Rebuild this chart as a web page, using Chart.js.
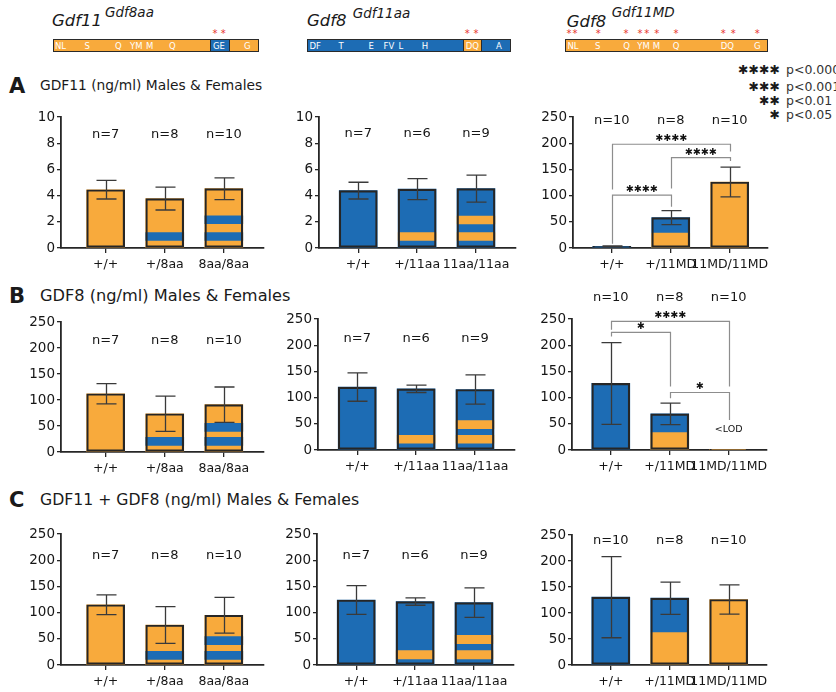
<!DOCTYPE html>
<html>
<head>
<meta charset="utf-8">
<title>GDF11 and GDF8 serum levels</title>
<script src="https://cdn.jsdelivr.net/npm/chart.js@4.4.1/dist/chart.umd.min.js"></script>
<style>
  html, body { margin: 0; padding: 0; background: #fff; }
  #fig { position: relative; width: 836px; height: 692px; overflow: hidden;
         font-family: "DejaVu Sans", sans-serif; color: #1a1a1a; }
  .t { position: absolute; line-height: 1; white-space: nowrap; transform: translateY(-50%); }
  canvas { position: absolute; }
  .cbar { position: absolute; box-sizing: border-box; border: 1.5px solid #2a2a2a; height: 13px; top: 39px; }
  .res { position: absolute; color: #fff; font-size: 8.5px; line-height: 1; top: 45.5px; transform: translateY(-50%); }
  .star { position: absolute; color: #e8322c; font-size: 10px; line-height: 1; top: 34px; transform: translate(-50%, -50%); }
  .sig { position: absolute; line-height: 1; transform: translateY(-50%); white-space: nowrap; }
</style>
</head>
<body>
<div id="fig"></div>
<script>
// ---------- colours ----------
const ORANGE = '#f8aa3c';
const BLUE = '#1d6cb4';

// ---------- genotype labels ----------
const labels8aa = ['+/+', '+/8aa', '8aa/8aa'];
const labels11aa = ['+/+', '+/11aa', '11aa/11aa'];
const labelsMD = ['+/+', '+/11MD', '11MD/11MD'];

// ---------- group sizes ----------
const n8aa = [7, 8, 10];
const n11aa = [7, 6, 9];
const nMD = [10, 8, 10];

// ---------- GDF11 (ng/ml): mean and error ----------
const gdf11_8aa = [4.45, 3.77, 4.53];
const gdf11_8aa_err = [0.71, 0.87, 0.83];
const gdf11_11aa = [4.38, 4.50, 4.53];
const gdf11_11aa_err = [0.64, 0.80, 1.03];
const gdf11_MD = [3, 58, 126];
const gdf11_MD_err = [1, 13.5, 28.5];

// ---------- GDF8 (ng/ml) ----------
const gdf8_8aa = [112, 73.5, 91];
const gdf8_8aa_err = [19.5, 34, 34];
const gdf8_11aa = [120, 116.7, 115.4];
const gdf8_11aa_err = [27, 7, 28];
const gdf8_MD = [127, 69, 0.8];
const gdf8_MD_err = [78, 20.5, 0];

// ---------- GDF11 + GDF8 (ng/ml) ----------
const sum_8aa = [115, 76.3, 95];
const sum_8aa_err = [19, 35, 34];
const sum_11aa = [124, 121, 119];
const sum_11aa_err = [27.5, 7, 28];
const sum_MD = [130.4, 128.5, 126];
const sum_MD_err = [78, 31, 28];

// ---------- chimeric bands inside bars: [bar index, from, to] ----------
const bands8aa_A = [[1, 0.58, 1.17], [2, 0.58, 1.17], [2, 1.85, 2.45]];
const bands8aa_B = [[1, 12.8, 28], [2, 12.8, 28], [2, 39.6, 55]];
const bands8aa_C = [[1, 10.8, 26], [2, 10.8, 26], [2, 38.8, 54]];
const bands11aa_A = [[1, 0.58, 1.17], [2, 0.58, 1.17], [2, 1.83, 2.43]];
const bands11aa_B = [[1, 12.8, 28], [2, 12.8, 28], [2, 40.8, 56]];
const bands11aa_C = [[1, 11.5, 27.4], [2, 11.5, 27.4], [2, 40.7, 56.6]];
const bandsMD_A = [[1, 0, 28.7]];
const bandsMD_B = [[1, 0, 33.2]];
const bandsMD_C = [[1, 0, 62.3]];

// ---------- significance brackets: from, to, level, leg ends, label ----------
const bracketsMD_A = [
  { from: 0, to: 2, y: 198, legs: [111.7, 184], label: '✱✱✱✱' },
  { from: 1, to: 2, y: 172.4, legs: [113.7, 166], label: '✱✱✱✱' },
  { from: 0, to: 1, y: 100.9, legs: [8.3, 78.5], label: '✱✱✱✱' }
];
const bracketsMD_B = [
  { from: 0, to: 2, y: 245.5, legs: [229.6, 121.2], label: '✱✱✱✱' },
  { from: 0, to: 1, y: 224.5, legs: [216.8, 121.2], label: '✱' },
  { from: 1, to: 2, y: 109.7, legs: [98.9, 57.4], label: '✱' }
];

// ---------- top schematics of the chimeric proteins ----------
const constructs = [
  { gene: 'Gdf11', sup: 'Gdf8aa', gx: 52, gy: 20.8, sx: 105, sy: 13.3, bar: [53, 258.5], base: ORANGE,
    seg: [210, 229.5], segColor: BLUE,
    residues: [['NL', 55], ['S', 84.5], ['Q', 115], ['YM', 130], ['M', 146], ['Q', 169], ['GE', 213], ['G', 244]],
    stars: [215, 223.3] },
  { gene: 'Gdf8', sup: 'Gdf11aa', gx: 307, gy: 20.8, sx: 352.7, sy: 13.8, bar: [306.7, 510.7], base: BLUE,
    seg: [463.3, 482], segColor: ORANGE,
    residues: [['DF', 309.5], ['T', 338.5], ['E', 368.5], ['FV', 383.5], ['L', 398.5], ['H', 421.7], ['DQ', 465.7], ['A', 496]],
    stars: [467.3, 476] },
  { gene: 'Gdf8', sup: 'Gdf11MD', gx: 566.7, gy: 21.6, sx: 611.7, sy: 13.3, bar: [565, 768.3], base: ORANGE,
    seg: null, segColor: null,
    residues: [['NL', 567.5], ['S', 595], ['Q', 623.3], ['YM', 637.3], ['M', 652.7], ['Q', 672.7], ['DQ', 720.7], ['G', 754]],
    stars: [569, 575, 598.3, 626, 640, 646.7, 656.7, 676, 723.3, 733.3, 757.3] }
];

const fig = document.getElementById('fig');

function addText(txt, left, cy, css) {
  const d = document.createElement('div');
  d.className = 't';
  d.textContent = txt;
  d.style.left = left + 'px';
  d.style.top = cy + 'px';
  Object.assign(d.style, css || {});
  fig.appendChild(d);
  return d;
}

constructs.forEach(c => {
  addText(c.gene, c.gx, c.gy, { fontSize: '16.5px', fontStyle: 'italic' });
  addText(c.sup, c.sx, c.sy, { fontSize: '13.5px', fontStyle: 'italic' });
  const b = document.createElement('div');
  b.className = 'cbar';
  b.style.left = c.bar[0] + 'px';
  b.style.width = (c.bar[1] - c.bar[0]) + 'px';
  b.style.background = c.base;
  fig.appendChild(b);
  if (c.seg) {
    const s = document.createElement('div');
    s.className = 'cbar';
    s.style.left = c.seg[0] + 'px';
    s.style.width = (c.seg[1] - c.seg[0]) + 'px';
    s.style.background = c.segColor;
    fig.appendChild(s);
  }
  c.residues.forEach(r => {
    const e = document.createElement('div');
    e.className = 'res';
    e.textContent = r[0];
    e.style.left = r[1] + 'px';
    fig.appendChild(e);
  });
  c.stars.forEach(x => {
    const e = document.createElement('div');
    e.className = 'star';
    e.textContent = '*';
    e.style.left = x + 'px';
    fig.appendChild(e);
  });
});

// significance key
const sigKey = [['✱✱✱✱', 'p<0.0001', 70], ['✱✱✱', 'p<0.001', 86.5], ['✱✱', 'p<0.01', 100.5], ['✱', 'p<0.05', 115]];
sigKey.forEach(k => {
  const s = document.createElement('div');
  s.className = 'sig';
  s.textContent = k[0];
  s.style.right = (836 - 780) + 'px';
  s.style.top = k[2] + 'px';
  s.style.fontSize = '12.5px';
  s.style.fontWeight = 'bold';
  fig.appendChild(s);
  addText(k[1], 786, k[2], { fontSize: '12.5px', color: '#333' });
});

// panel letters and titles
const panels = [
  ['A', 'GDF11 (ng/ml) Males & Females', 86, '13.8px'],
  ['B', 'GDF8 (ng/ml) Males & Females', 296, '16.2px'],
  ['C', 'GDF11 + GDF8 (ng/ml) Males & Females', 500, '15.7px']
];
panels.forEach(p => {
  addText(p[0], 9, p[2], { fontSize: '21px', fontWeight: 'bold' });
  addText(p[1], 40, p[2], { fontSize: p[3] });
});

// ---------- chart specs ----------
const specs = [
  { labels: labels8aa, n: n8aa, mean: gdf11_8aa, err: gdf11_8aa_err, base: [ORANGE, ORANGE, ORANGE],
    bands: bands8aa_A, bandColor: BLUE, ymax: 10, step: 2, axisX: 60.7, top: 117, bottom: 247.7, xmin: -0.756, xmax: 2.68, nAt: 8.68 },
  { labels: labels11aa, n: n11aa, mean: gdf11_11aa, err: gdf11_11aa_err, base: [BLUE, BLUE, BLUE],
    bands: bands11aa_A, bandColor: ORANGE, ymax: 10, step: 2, axisX: 319.3, top: 117, bottom: 247.7, xmin: -0.666, xmax: 2.68, nAt: 8.7 },
  { labels: labelsMD, n: nMD, mean: gdf11_MD, err: gdf11_MD_err, base: [BLUE, BLUE, ORANGE],
    bands: bandsMD_A, bandColor: ORANGE, ymax: 250, step: 50, axisX: 572.7, top: 117, bottom: 247.7, xmin: -0.658, xmax: 2.65, nAt: 244,
    brackets: bracketsMD_A },

  { labels: labels8aa, n: n8aa, mean: gdf8_8aa, err: gdf8_8aa_err, base: [ORANGE, ORANGE, ORANGE],
    bands: bands8aa_B, bandColor: BLUE, ymax: 250, step: 50, axisX: 60.7, top: 322.3, bottom: 452.7, xmin: -0.756, xmax: 2.68, nAt: 214 },
  { labels: labels11aa, n: n11aa, mean: gdf8_11aa, err: gdf8_11aa_err, base: [BLUE, BLUE, BLUE],
    bands: bands11aa_B, bandColor: ORANGE, ymax: 250, step: 50, axisX: 318.3, top: 319.3, bottom: 450, xmin: -0.666, xmax: 2.68, nAt: 212 },
  { labels: labelsMD, n: nMD, mean: gdf8_MD, err: gdf8_MD_err, base: [BLUE, BLUE, ORANGE],
    bands: bandsMD_B, bandColor: ORANGE, ymax: 250, step: 50, axisX: 572.3, top: 319.3, bottom: 450, xmin: -0.658, xmax: 2.65, nAt: 291,
    brackets: bracketsMD_B, note: { at: 2, y: 40, text: '<LOD' } },

  { labels: labels8aa, n: n8aa, mean: sum_8aa, err: sum_8aa_err, base: [ORANGE, ORANGE, ORANGE],
    bands: bands8aa_C, bandColor: BLUE, ymax: 250, step: 50, axisX: 60.7, top: 534.3, bottom: 665.3, xmin: -0.756, xmax: 2.68, nAt: 208.6 },
  { labels: labels11aa, n: n11aa, mean: sum_11aa, err: sum_11aa_err, base: [BLUE, BLUE, BLUE],
    bands: bands11aa_C, bandColor: ORANGE, ymax: 250, step: 50, axisX: 317.3, top: 534.3, bottom: 665.3, xmin: -0.666, xmax: 2.68, nAt: 209.6 },
  { labels: labelsMD, n: nMD, mean: sum_MD, err: sum_MD_err, base: [BLUE, BLUE, ORANGE],
    bands: bandsMD_C, bandColor: ORANGE, ymax: 250, step: 50, axisX: 571.7, top: 535, bottom: 665.3, xmin: -0.658, xmax: 2.65, nAt: 240 }
];

const UNIT = 59;      // pixels between neighbouring genotypes
const PAD_T = 36;     // room above the plot for labels and brackets
const Y_W = 46;       // y-axis box width
const X_H = 40;       // x-axis box height
const PAD_R = 24;
const TXT = '#161616';
const AXIS = '#262626';

// error bars, n labels, brackets and notes
function marksPlugin(spec) {
  return {
    id: 'marks',
    afterDatasetsDraw(chart) {
      const { ctx } = chart;
      const xs = chart.scales.x, ys = chart.scales.y;
      ctx.save();
      // error bars
      ctx.strokeStyle = '#3a3a3a';
      ctx.lineWidth = 1.3;
      spec.mean.forEach((m, i) => {
        const e = spec.err[i];
        if (!e) return;
        const px = Math.round(xs.getPixelForValue(i)) + 0.5;
        const t = ys.getPixelForValue(m + e);
        const b = ys.getPixelForValue(Math.max(m - e, 0));
        ctx.beginPath();
        ctx.moveTo(px, t); ctx.lineTo(px, b);
        ctx.moveTo(px - 10, t); ctx.lineTo(px + 10, t);
        ctx.moveTo(px - 10, b); ctx.lineTo(px + 10, b);
        ctx.stroke();
      });
      // group sizes
      ctx.fillStyle = TXT;
      ctx.font = '13px "DejaVu Sans"';
      ctx.textAlign = 'center';
      ctx.textBaseline = 'middle';
      spec.n.forEach((n, i) => {
        ctx.fillText('n=' + n, xs.getPixelForValue(i), ys.getPixelForValue(spec.nAt));
      });
      // brackets
      (spec.brackets || []).forEach(br => {
        const x1 = Math.round(xs.getPixelForValue(br.from)) + 0.5;
        const x2 = Math.round(xs.getPixelForValue(br.to)) + 0.5;
        const yy = ys.getPixelForValue(br.y);
        ctx.strokeStyle = '#8d8d8d';
        ctx.lineWidth = 1.2;
        ctx.beginPath();
        ctx.moveTo(x1, ys.getPixelForValue(br.legs[0]));
        ctx.lineTo(x1, yy);
        ctx.lineTo(x2, yy);
        ctx.lineTo(x2, ys.getPixelForValue(br.legs[1]));
        ctx.stroke();
        ctx.fillStyle = '#111';
        ctx.font = 'bold 9.5px "DejaVu Sans"';
        ctx.fillText(br.label, (x1 + x2) / 2, yy - 5.5);
      });
      // note
      if (spec.note) {
        ctx.fillStyle = '#111';
        ctx.font = '9.5px "DejaVu Sans"';
        ctx.fillText(spec.note.text, xs.getPixelForValue(spec.note.at), ys.getPixelForValue(spec.note.y));
      }
      ctx.restore();
    }
  };
}

function build(spec) {
  const w = (spec.xmax - spec.xmin) * UNIT;
  const h = spec.bottom - spec.top;
  const W = Math.round(Y_W + w + PAD_R);
  const H = Math.round(PAD_T + h + X_H);
  const cv = document.createElement('canvas');
  cv.width = W; cv.height = H;
  cv.style.width = W + 'px'; cv.style.height = H + 'px';
  cv.style.left = Math.round(spec.axisX - Y_W) + 'px';
  cv.style.top = Math.round(spec.top - PAD_T) + 'px';
  fig.appendChild(cv);

  const pts = spec.mean.map((v, i) => ({ x: i, y: v }));
  new Chart(cv, {
    type: 'bar',
    data: {
      datasets: [
        { data: pts, backgroundColor: 'rgba(0,0,0,0)', borderColor: AXIS, borderWidth: 1.5,
          borderSkipped: false, order: 1, grouped: false, barThickness: 38 },
        { data: spec.bands.map(b => ({ x: b[0], y: [b[1], b[2]] })), backgroundColor: spec.bandColor,
          borderWidth: 0, order: 2, grouped: false, barThickness: 38 },
        { data: pts, backgroundColor: spec.base, borderWidth: 0, order: 3, grouped: false, barThickness: 38 }
      ]
    },
    options: {
      responsive: false,
      animation: false,
      devicePixelRatio: 1,
      layout: { padding: { top: PAD_T, right: PAD_R, left: 0, bottom: 0 } },
      plugins: { legend: { display: false }, tooltip: { enabled: false } },
      scales: {
        x: {
          type: 'linear', min: spec.xmin, max: spec.xmax, offset: false,
          afterBuildTicks: s => { s.ticks = [0, 1, 2].map(v => ({ value: v })); },
          afterFit: s => { s.height = X_H; },
          ticks: { callback: v => spec.labels[v], color: TXT, font: { family: 'DejaVu Sans', size: 12.5 },
                   padding: 4, maxRotation: 0, autoSkip: false },
          grid: { drawOnChartArea: false, offset: false, tickLength: 5, color: AXIS, lineWidth: 1.3 },
          border: { color: AXIS, width: 1.8 }
        },
        y: {
          min: 0, max: spec.ymax,
          afterFit: s => { s.width = Y_W; },
          ticks: { stepSize: spec.step, color: TXT, font: { family: 'DejaVu Sans', size: 13.5 }, padding: 2 },
          grid: { drawOnChartArea: false, tickLength: 4, color: AXIS, lineWidth: 1.3 },
          border: { color: AXIS, width: 1.8 }
        }
      }
    },
    plugins: [marksPlugin(spec)]
  });
}

specs.forEach(build);
</script>
</body>
</html>
